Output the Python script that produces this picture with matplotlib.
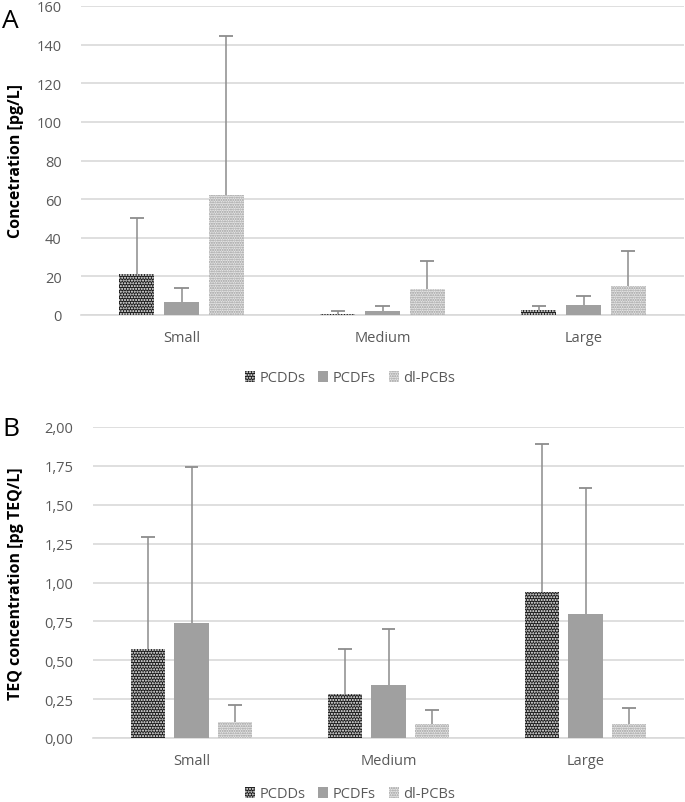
import numpy as np
import matplotlib.pyplot as plt
from matplotlib.ticker import FuncFormatter

plt.rcParams['font.family'] = ['Open Sans', 'DejaVu Sans']
plt.rcParams['hatch.linewidth'] = 1.0

categories = ["Small", "Medium", "Large"]
series = ["PCDDs", "PCDFs", "dl-PCBs"]

# Panel A: concentration [pg/L]
conc_mean = {"PCDDs": [21.0, 0.4, 2.7],
             "PCDFs": [6.5, 2.2, 5.2],
             "dl-PCBs": [62.0, 13.5, 15.0]}
conc_err = {"PCDDs": [29.0, 1.6, 1.8],
            "PCDFs": [7.5, 2.6, 4.8],
            "dl-PCBs": [82.5, 14.5, 18.0]}

# Panel B: TEQ concentration [pg TEQ/L]
teq_mean = {"PCDDs": [0.57, 0.28, 0.94],
            "PCDFs": [0.74, 0.34, 0.80],
            "dl-PCBs": [0.10, 0.09, 0.09]}
teq_err = {"PCDDs": [0.72, 0.29, 0.95],
           "PCDFs": [1.00, 0.36, 0.81],
           "dl-PCBs": [0.11, 0.09, 0.10]}

styles = {
    "PCDDs": dict(facecolor="#1a1a1a", edgecolor="#ffffff", hatch="......"),
    "PCDFs": dict(facecolor="#a0a0a0", edgecolor="#a0a0a0", hatch=None),
    "dl-PCBs": dict(facecolor="#e8e8e8", edgecolor="#9a9a9a", hatch="......."),
}

fig = plt.figure(figsize=(6.85, 8.03), dpi=100)
W, H = 685, 803
axA = fig.add_axes([81 / W, 1 - 316 / H, 603 / W, 309 / H])
axB = fig.add_axes([93 / W, 1 - 739 / H, 591 / W, 311 / H])

x = np.arange(len(categories))
width = 0.175
step = 0.222
cap = 0.035


def draw(ax, means, errs, ymax, ystep, fmt, ylabel, label_x):
    handles = []
    for i, s in enumerate(series):
        pos = x + (i - 1) * step
        st = styles[s]
        m = np.array(means[s])
        top = m + np.array(errs[s])
        b = ax.bar(pos, m, width, facecolor=st["facecolor"],
                   edgecolor=st["edgecolor"], hatch=st["hatch"], linewidth=0,
                   zorder=3, label=s)
        ax.vlines(pos, m, top, color="#8c8c8c", linewidth=1.1, zorder=4)
        ax.hlines(top, pos - cap, pos + cap, color="#8c8c8c", linewidth=1.3,
                  zorder=4)
        handles.append(b)
    ax.set_xlim(-0.5, 2.5)
    ax.set_ylim(0, ymax)
    ax.set_yticks(np.arange(0, ymax + ystep / 2, ystep))
    ax.yaxis.set_major_formatter(FuncFormatter(fmt))
    ax.set_xticks(x)
    ax.set_xticklabels(categories)
    ax.grid(axis="y", color="#d9d9d9", linewidth=1.2, zorder=0)
    ax.set_axisbelow(True)
    for sp in ["top", "right", "left"]:
        ax.spines[sp].set_visible(False)
    ax.spines["bottom"].set_color("#d9d9d9")
    ax.spines["bottom"].set_linewidth(1.2)
    ax.tick_params(axis="both", length=0, labelsize=10.5, colors="#595959", pad=14)
    ax.tick_params(axis="x", pad=11)
    ax.set_ylabel(ylabel, fontsize=11.5, fontweight="bold", color="black")
    ax.yaxis.set_label_coords(label_x, 0.5)
    return handles


hA = draw(axA, conc_mean, conc_err, 160, 20, lambda v, p: f"{v:.0f}",
          "Concetration [pg/L]", (24 - 81) / 603)
hB = draw(axB, teq_mean, teq_err, 2.0, 0.25,
          lambda v, p: f"{v:.2f}".replace(".", ","),
          "TEQ concentration [pg TEQ/L]", (24 - 93) / 591)

for h, y in [(hA, 379), (hB, 795)]:
    leg = fig.legend(h, series, loc="center", bbox_to_anchor=(350 / W, 1 - y / H),
                     ncol=3, frameon=False, fontsize=10.5, handlelength=0.7,
                     handleheight=0.7, columnspacing=0.9, handletextpad=0.3,
                     borderpad=0.1)
    for t in leg.get_texts():
        t.set_color("#595959")

fig.text(2 / W, 1 - 22 / H, "A", fontsize=19, va="center", ha="left")
fig.text(2 / W, 1 - 430 / H, "B", fontsize=19, va="center", ha="left")

fig.savefig("out.png", dpi=100)
